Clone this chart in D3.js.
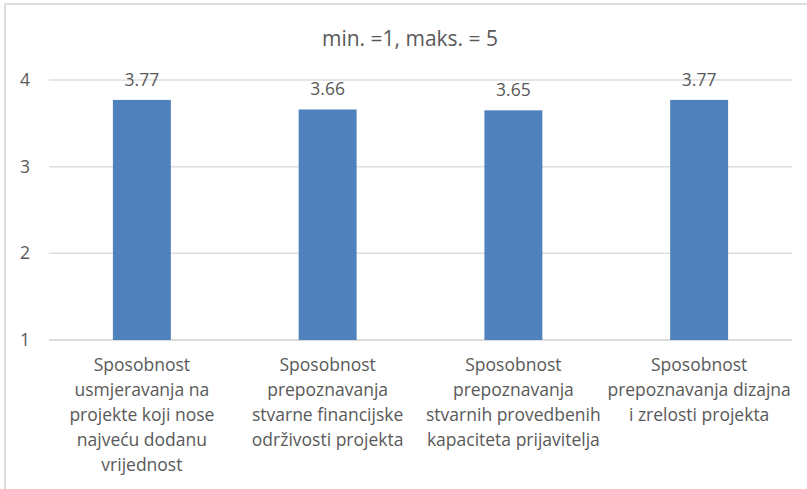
<!DOCTYPE html>
<html>
<head>
<meta charset="utf-8">
<script src="https://cdn.jsdelivr.net/npm/d3@7"></script>
<style>
  body { margin: 0; background: #fff; }
  svg text { font-family: "Open Sans", Lato, sans-serif; fill: #595959; }
</style>
</head>
<body>
<div id="chart"></div>
<script>
// data
var categories = [
    ["Sposobnost", "usmjeravanja na", "projekte koji nose", "najveću dodanu", "vrijednost"],
    ["Sposobnost", "prepoznavanja", "stvarne financijske", "održivosti projekta"],
    ["Sposobnost", "prepoznavanja", "stvarnih provedbenih", "kapaciteta prijavitelja"],
    ["Sposobnost", "prepoznavanja dizajna", "i zrelosti projekta"]
];
var values = [3.77, 3.66, 3.65, 3.77];
var yTicks = [1, 2, 3, 4];
var title = "min. =1, maks. = 5";

var W = 807, H = 489;
var margin = { top: 80, right: 15, bottom: 149, left: 49 },
    width = W - margin.left - margin.right,
    height = H - margin.top - margin.bottom;

var svg = d3.select("#chart")
    .append("svg")
    .attr("width", W)
    .attr("height", H);

// outer chart border (runs off the right / bottom of the picture)
svg.append("rect")
    .attr("x", 5).attr("y", 4)
    .attr("width", W + 10).attr("height", H + 10)
    .attr("fill", "none")
    .attr("stroke", "#d4d4d4")
    .attr("stroke-width", 1.5);

svg.append("text")
    .attr("x", 410)
    .attr("y", 46)
    .style("text-anchor", "middle")
    .style("font-size", "21px")
    .text(title);

var g = svg.append("g")
    .attr("transform", "translate(" + margin.left + "," + margin.top + ")");

var x = d3.scaleBand()
    .domain(d3.range(values.length))
    .range([0, width])
    .paddingInner(0.688)
    .paddingOuter(0.344);

var y = d3.scaleLinear()
    .domain([1, 4])
    .range([height, 0]);

// gridlines
g.selectAll(".grid")
    .data(yTicks)
    .enter()
    .append("line")
    .attr("x1", 0).attr("x2", width)
    .attr("y1", function (d) { return y(d); })
    .attr("y2", function (d) { return y(d); })
    .attr("stroke", function (d) { return d == 1 ? "#d0d0d0" : "#dedede"; })
    .attr("stroke-width", 1.5);

// y tick labels
g.selectAll(".ytick")
    .data(yTicks)
    .enter()
    .append("text")
    .attr("x", -24)
    .attr("y", function (d) { return y(d); })
    .attr("dy", "0.35em")
    .style("text-anchor", "middle")
    .style("font-size", "17.5px")
    .text(function (d) { return d; });

// bars
g.selectAll(".bar")
    .data(values)
    .enter()
    .append("rect")
    .attr("x", function (d, i) { return x(i); })
    .attr("y", function (d) { return y(d); })
    .attr("width", x.bandwidth())
    .attr("height", function (d) { return y(1) - y(d); })
    .attr("fill", "#4f81bd");

// value labels
g.selectAll(".val")
    .data(values)
    .enter()
    .append("text")
    .attr("x", function (d, i) { return x(i) + x.bandwidth() / 2; })
    .attr("y", function (d) { return y(d) - 14; })
    .style("text-anchor", "middle")
    .style("font-size", "17.5px")
    .text(function (d) { return d.toFixed(2); });

// category labels
var cat = g.selectAll(".cat")
    .data(categories)
    .enter()
    .append("text")
    .attr("transform", function (d, i) {
        return "translate(" + (x(i) + x.bandwidth() / 2) + "," + (height + 31) + ")";
    })
    .style("text-anchor", "middle")
    .style("font-size", "17.5px");

cat.selectAll("tspan")
    .data(function (d) { return d; })
    .enter()
    .append("tspan")
    .attr("x", 0)
    .attr("y", function (d, i) { return i * 25; })
    .text(function (d) { return d; });
</script>
</body>
</html>
